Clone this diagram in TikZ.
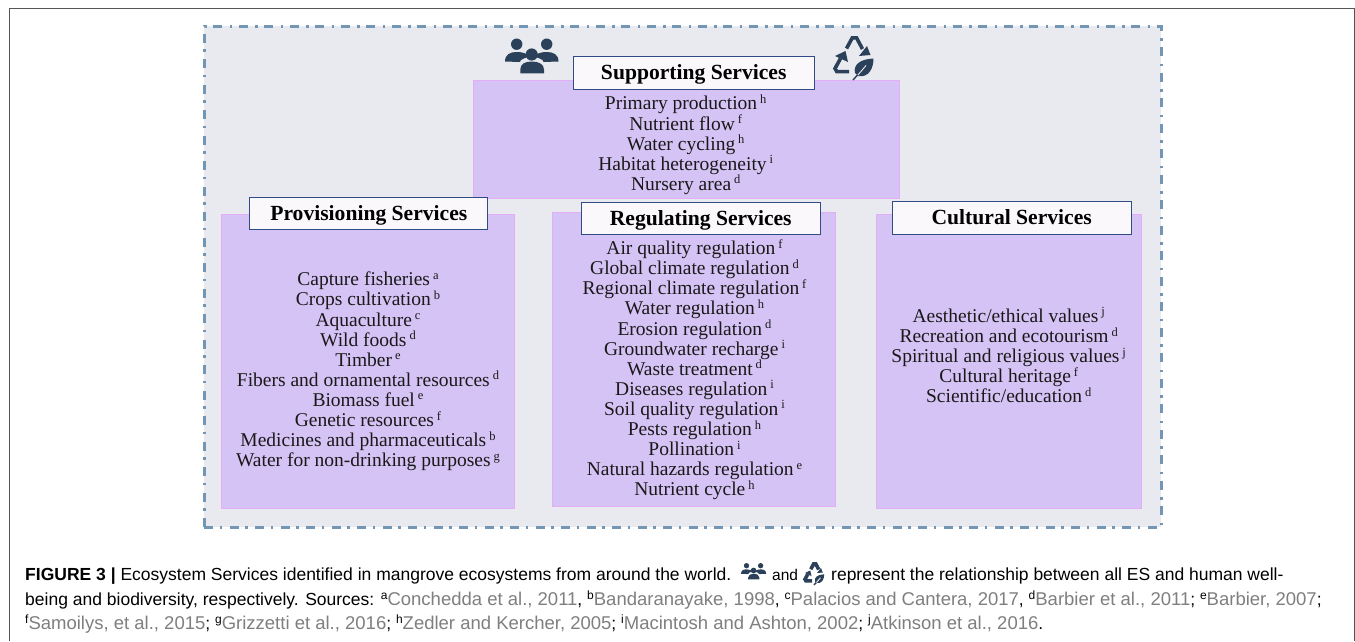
\documentclass[tikz,border=0pt]{standalone}
\usepackage{fontspec}
\setmainfont{Liberation Serif}
\newfontfamily\capfont{Liberation Sans}
\definecolor{framefill}{HTML}{E9EAEF}
\definecolor{framedash}{HTML}{7396B5}
\definecolor{boxfill}{HTML}{D6C3F5}
\definecolor{boxedge}{HTML}{E3AEF5}
\definecolor{titleedge}{HTML}{2F4C85}
\definecolor{titlefill}{HTML}{FBF8FC}
\definecolor{icon}{HTML}{2B4059}
\definecolor{refgray}{HTML}{7F7F7F}
\definecolor{outer}{HTML}{555555}
\newcommand\sr[1]{\kern3pt\raisebox{6.5pt}{\fontsize{12.5}{12.5}\selectfont #1}}
\newcommand\cs[1]{\raisebox{5.5pt}{\fontsize{12}{12}\selectfont #1}}
\newcommand\rg[1]{\textcolor{refgray}{\fontsize{18.5}{20}\selectfont #1}}
\tikzset{
  x=1pt,y=-1pt,
  purplebox/.style={fill=boxfill,draw=boxedge,line width=0.9pt},
  titlebox/.style={fill=titlefill,draw=titleedge,line width=1.1pt},
  titletext/.style={font=\fontsize{21.6}{23}\selectfont\bfseries,inner sep=0pt,anchor=base},
  listtext/.style={font=\fontsize{19.5}{20.1}\selectfont,align=center,inner sep=0pt,text=black!90},
  captext/.style={font=\capfont\fontsize{17.5}{20}\selectfont,anchor=base west,inner sep=0pt},
  iconfill/.style={fill=icon,draw=none},
  iconline/.style={draw=icon,line join=miter,fill=none},
  % people icon, origin at top left of a 54 x 36 cell
  peoplepic/.pic={
    \fill[iconfill] (11.7,5.7) circle (5.7) (41.7,5.7) circle (5.7);
    \fill[iconfill] (0,23) .. controls (0,16) and (5,13.5) .. (11.7,13.5) .. controls (18,13.5) and (22,15) .. (24,18) .. controls (19,20) and (15,21) .. (15,23.5) -- cycle;
    \fill[iconfill] (53.5,23) .. controls (53.5,16) and (48.5,13.5) .. (41.7,13.5) .. controls (35.5,13.5) and (31.5,15) .. (29.5,18) .. controls (34.5,20) and (38.5,21) .. (38.5,23.5) -- cycle;
    \fill[iconfill] (26.7,16) circle (6.1);
    \fill[iconfill] (15.3,34.8) -- (15.3,31) .. controls (15.3,25.5) and (20,23) .. (26.7,23) .. controls (33.5,23) and (39,25.5) .. (39,31) -- (39,34.8) -- cycle;
  },
  % recycle and leaf icon, origin at top left of a 42 x 44 cell
  recyclepic/.pic={
    \draw[iconline,line width=3.6pt] (13.5,13.5) -- (19.3,2.8) -- (23.5,2.8) -- (29.5,14);
    \fill[iconfill] (37.5,20) -- (26,21) -- (34,11) -- cycle;
    \draw[iconline,line width=3.6pt] (16,36.6) -- (3.8,36.6) -- (2,33.5) -- (7.5,23.5);
    \fill[iconfill] (2,21) -- (12.5,16) -- (15,27) -- cycle;
    \fill[iconfill] (22,38) .. controls (20,30) and (27,24) .. (40.5,23.5) .. controls (40.5,33) and (36,43) .. (25,41) -- cycle;
    \draw[framefill,line width=0.9pt] (24.5,40.5) -- (33,30.5);
    \draw[icon,line width=1.4pt] (20,45) -- (24.5,40);
  }
}
\begin{document}
\begin{tikzpicture}
\useasboundingbox (0,0) rectangle (1355,641);
\fill[white] (0,0) rectangle (1355,641);
\coordinate (oa) at (9,641);
\coordinate (ob) at (9,8.3);
\coordinate (oc) at (1354,8.3);
\coordinate (od) at (1354,641);
\draw[outer,line width=1pt] (oa) -- (ob) -- (oc) -- (od);
\node[fill=framefill,draw=framedash,line width=2.3pt,dash pattern=on 9pt off 6.5pt on 2.5pt off 7.5pt,minimum width=957pt,minimum height=501pt,inner sep=0pt,anchor=north west] (frame) at (203.3,25.3) {};

\node[purplebox,minimum width=426pt,minimum height=118.5pt,inner sep=0pt,anchor=north west] (supbox) at (472.6,79.6) {};
\node[purplebox,minimum width=292.7pt,minimum height=294.3pt,inner sep=0pt,anchor=north west] (probox) at (220.9,213.6) {};
\node[purplebox,minimum width=283.7pt,minimum height=294.4pt,inner sep=0pt,anchor=north west] (regbox) at (551.6,211.9) {};
\node[purplebox,minimum width=265.7pt,minimum height=294.3pt,inner sep=0pt,anchor=north west] (culbox) at (875.6,213.6) {};

\node[titlebox,minimum width=240.3pt,minimum height=32.3pt,inner sep=0pt,anchor=north west] (suptitle) at (573.2,56.2) {};
\node[titlebox,minimum width=238.4pt,minimum height=32pt,inner sep=0pt,anchor=north west] (protitle) at (248.8,196.8) {};
\node[titlebox,minimum width=238.7pt,minimum height=32.4pt,inner sep=0pt,anchor=north west] (regtitle) at (580.8,201.8) {};
\node[titlebox,minimum width=239.4pt,minimum height=32.6pt,inner sep=0pt,anchor=north west] (cultitle) at (891.8,201.2) {};

\node[titletext] (suplabel) at (693.7,79.3) {Supporting Services};
\node[titletext] (prolabel) at (368.8,220) {Provisioning Services};
\node[titletext] (reglabel) at (700.7,225) {Regulating Services};
\node[titletext] (cullabel) at (1011.7,224.3) {Cultural Services};

\node[listtext] (suplist) at (685.7,144.7) {Primary production\sr{h}\\Nutrient flow\sr{f}\\Water cycling\sr{h}\\Habitat heterogeneity\sr{i}\\Nursery area\sr{d}};
\node[listtext] (prolist) at (368,371.5) {Capture fisheries\sr{a}\\Crops cultivation\sr{b}\\Aquaculture\sr{c}\\Wild foods\sr{d}\\Timber\sr{e}\\Fibers and ornamental resources\sr{d}\\Biomass fuel\sr{e}\\Genetic resources\sr{f}\\Medicines and pharmaceuticals\sr{b}\\Water for non-drinking purposes\sr{g}};
\node[listtext] (reglist) at (694.5,369.7) {Air quality regulation\sr{f}\\Global climate regulation\sr{d}\\Regional climate regulation\sr{f}\\Water regulation\sr{h}\\Erosion regulation\sr{d}\\Groundwater recharge\sr{i}\\Waste treatment\sr{d}\\Diseases regulation\sr{i}\\Soil quality regulation\sr{i}\\Pests regulation\sr{h}\\Pollination\sr{i}\\Natural hazards regulation\sr{e}\\Nutrient cycle\sr{h}};
\node[listtext] (cullist) at (1008.7,355.3) {Aesthetic/ethical values\sr{j}\\Recreation and ecotourism\sr{d}\\Spiritual and religious values\sr{j}\\Cultural heritage\sr{f}\\Scientific/education\sr{d}};

\pic at (505,38.5) {peoplepic};
\pic at (833,35) {recyclepic};

\node[captext] (capa) at (25,580) {\textbf{FIGURE 3 |} Ecosystem Services identified in mangrove ecosystems from around the world.};
\pic[scale=0.47] at (741,563) {peoplepic};
\node[captext,font=\capfont\fontsize{15.5}{20}\selectfont] (capb) at (772,580) {and};
\pic[scale=0.5] at (804,562.5) {recyclepic};
\node[captext] (capc) at (831,580) {represent the relationship between all ES and human well-};
\node[captext] (capd) at (25,605) {being and biodiversity, respectively. Sources: \cs{a}\rg{Conchedda et al., 2011}, \cs{b}\rg{Bandaranayake, 1998}, \cs{c}\rg{Palacios and Cantera, 2017}, \cs{d}\rg{Barbier et al., 2011}; \cs{e}\rg{Barbier, 2007};};
\node[captext] (cape) at (25,629) {\cs{f}\rg{Samoilys, et al., 2015}; \cs{g}\rg{Grizzetti et al., 2016}; \cs{h}\rg{Zedler and Kercher, 2005}; \cs{i}\rg{Macintosh and Ashton, 2002}; \cs{j}\rg{Atkinson et al., 2016}.};
\end{tikzpicture}
\end{document}
